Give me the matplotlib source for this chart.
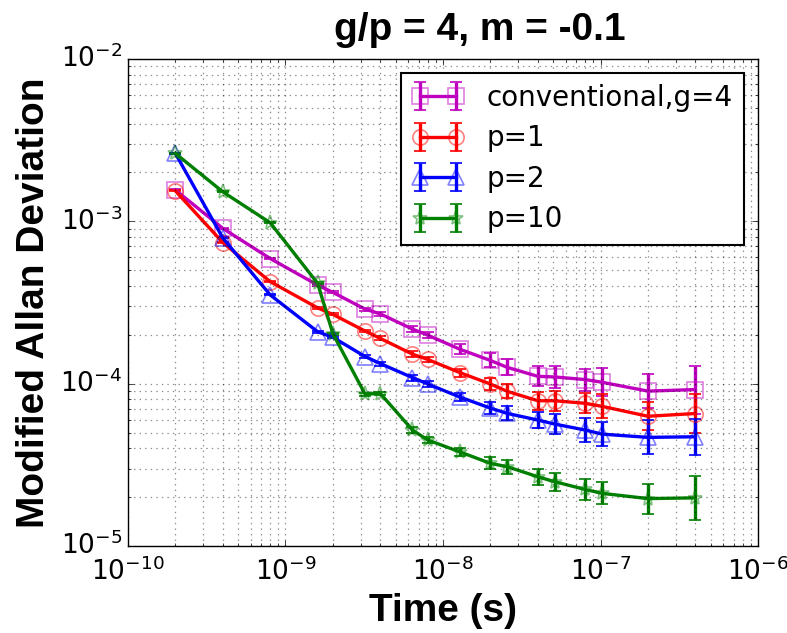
import numpy as np
import matplotlib
matplotlib.use("Agg")
import matplotlib.pyplot as plt

plt.style.use("classic")
plt.rcParams["figure.facecolor"] = "white"
plt.rcParams["savefig.facecolor"] = "white"
plt.rcParams["font.family"] = ["DejaVu Sans"]

# --- data ---
tau = [2e-10, 4e-10, 8e-10, 1.6e-9, 2e-9, 3.2e-9, 4e-9, 6.4e-9, 8e-9, 1.28e-8,
       2e-8, 2.56e-8, 4e-8, 5.12e-8, 8e-8, 1.024e-7, 2e-7, 4e-7]

conv = [1.56e-3, 9.05e-4, 5.9e-4, 4.05e-4, 3.65e-4, 2.88e-4, 2.69e-4, 2.17e-4, 1.99e-4,
        1.63e-4, 1.39e-4, 1.26e-4, 1.11e-4, 1.10e-4, 1.06e-4, 1.02e-4, 9.0e-5, 9.2e-5]
p1 = [1.54e-3, 7.4e-4, 4.25e-4, 2.93e-4, 2.67e-4, 2.11e-4, 1.90e-4, 1.52e-4, 1.41e-4,
      1.17e-4, 9.95e-5, 8.97e-5, 7.85e-5, 7.85e-5, 7.57e-5, 7.25e-5, 6.3e-5, 6.55e-5]
p2 = [2.62e-3, 7.9e-4, 3.52e-4, 2.09e-4, 1.93e-4, 1.47e-4, 1.33e-4, 1.09e-4, 9.96e-5,
      8.27e-5, 7.07e-5, 6.56e-5, 5.97e-5, 5.64e-5, 5.18e-5, 4.89e-5, 4.67e-5, 4.71e-5]
p10 = [2.62e-3, 1.52e-3, 9.8e-4, 4.15e-4, 2.03e-4, 8.63e-5, 8.7e-5, 5.18e-5, 4.5e-5,
       3.80e-5, 3.23e-5, 3.08e-5, 2.67e-5, 2.49e-5, 2.23e-5, 2.11e-5, 1.96e-5, 1.98e-5]

# error bar half-lengths, in decades
conv_err = [.003, .003, .003, .006, .006, .009, .012, .018, .018, .031, .043, .049,
            .062, .068, .068, .086, .105, .148]
p1_err = [.003, .003, .003, .006, .006, .009, .012, .018, .018, .025, .037, .043,
          .055, .062, .062, .074, .086, .123]
p2_err = [.003, .003, .003, .006, .006, .009, .012, .018, .018, .025, .037, .043,
          .049, .062, .074, .074, .105, .111]
p10_err = [.003, .003, .003, .006, .006, .009, .012, .018, .018, .025, .037, .043,
           .049, .055, .062, .068, .092, .136]

labels = ["conventional,g=4", "p=1", "p=2", "p=10"]
series = [conv, p1, p2, p10]
errs = [conv_err, p1_err, p2_err, p10_err]
colors = ["m", "r", "b", "g"]
markers = ["s", "o", "^", "*"]

fig = plt.figure(figsize=(7.87, 6.33), dpi=100)
ax = fig.add_axes([0.1626, 0.1374, 0.8006, 0.7694])

for y, e, c, mk, lab in zip(series, errs, colors, markers, labels):
    y = np.array(y)
    d = 10 ** np.array(e)
    yerr = [y - y / d, y * d - y]
    ax.errorbar(tau, y, yerr=yerr, color=c, lw=2.4, elinewidth=2.4, capsize=4,
                capthick=2, marker=mk, ms=11, mfc="none",
                mec=matplotlib.colors.to_rgba(c, 0.5), mew=1.2, label=lab)

ax.set_xscale("log")
ax.set_yscale("log")
ax.set_xlim(1e-10, 1e-6)
ax.set_ylim(1e-5, 1e-2)
ax.grid(True, which="both", linestyle=(0, (1, 3)), color="k", alpha=0.45, lw=0.9)
ax.tick_params(labelsize=19)
ax.tick_params(axis="x", pad=8)

bold = dict(family="Liberation Sans", weight="bold", size=28)
ax.set_xlabel("Time (s)", **bold)
ax.set_ylabel("Modified Allan Deviation", labelpad=6, **bold)
ax.set_title("g/p = 4, m = -0.1", x=0.559, pad=14, **bold)

leg = ax.legend(loc="upper right", fontsize=20, numpoints=2, borderaxespad=0.5,
                labelspacing=0.45, handlelength=1.9)
leg.get_frame().set_linewidth(1.5)

fig.savefig("out.png", dpi=100)
